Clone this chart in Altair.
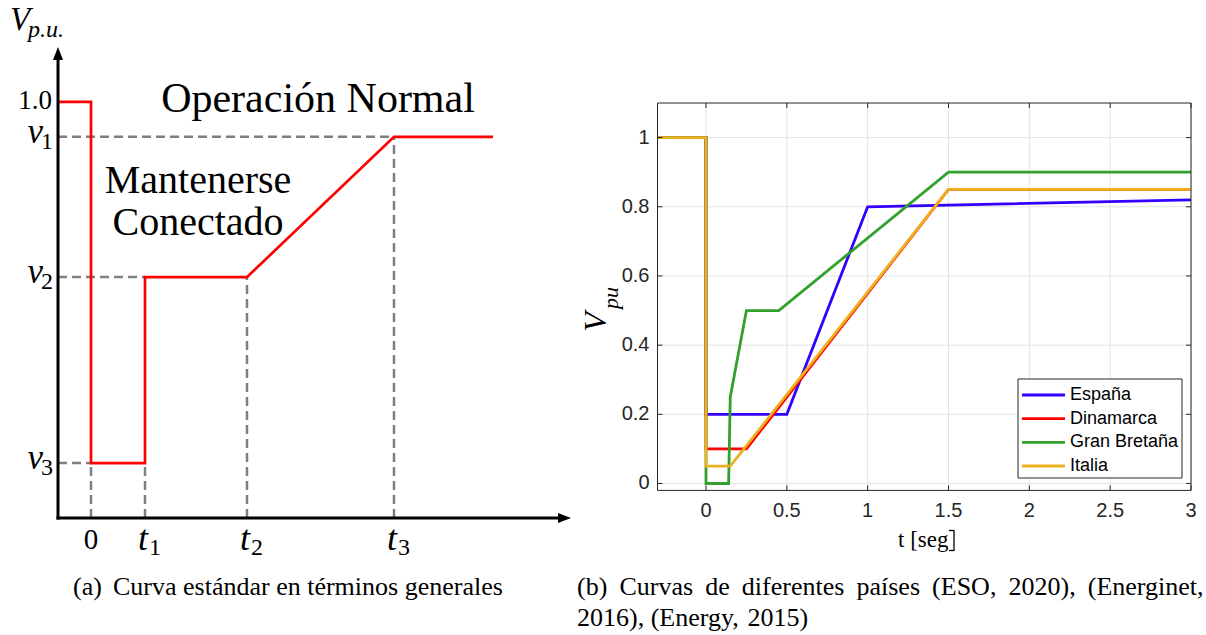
import altair as alt
import pandas as pd

SERIF = "Liberation Serif"
SANS = "Liberation Sans"

# ---------------- Panel (a): generic ride-through curve (schematic units) ----------------
a_curve_t = [-0.611, 0.0, 0.0, 1.0, 1.0, 2.889, 5.611, 7.444]
a_curve_v = [1.0, 1.0, 0.132, 0.132, 0.579, 0.579, 0.916, 0.916]
a_tick_t = [0.0, 1.0, 2.889, 5.611]          # 0, t1, t2, t3
a_tick_sub = ["1", "2", "3"]                 # subscripts of t1, t2, t3
a_tick_top = [0.132, 0.132, 0.579, 0.916]    # level reached by each vertical guide
a_level_v = [0.916, 0.579, 0.132]            # v1, v2, v3
a_level_sub = ["1", "2", "3"]
a_level_end = [5.611, 1.0, 0.0]              # where each horizontal guide stops
a_nominal = 1.0
a_x_min, a_x_max = -0.611, 8.889
a_y_min, a_y_max = 0.0, 1.132

# ---------------- Panel (b): curves of different countries ----------------
series_names = ["España", "Dinamarca", "Gran Bretaña", "Italia"]
series_colors = ["#3300ff", "#ff0000", "#33a02c", "#edb120"]
t_es = [-0.3, 0.0, 0.0, 0.5, 1.0, 3.0]
v_es = [1.0, 1.0, 0.2, 0.2, 0.8, 0.82]
t_dk = [-0.3, 0.0, 0.0, 0.25, 1.5, 3.0]
v_dk = [1.0, 1.0, 0.1, 0.1, 0.85, 0.85]
t_gb = [-0.3, 0.0, 0.0, 0.14, 0.15, 0.25, 0.45, 1.5, 3.0]
v_gb = [1.0, 1.0, 0.0, 0.0, 0.25, 0.5, 0.5, 0.9, 0.9]
t_it = [-0.3, 0.0, 0.0, 0.15, 1.5, 3.0]
v_it = [1.0, 1.0, 0.05, 0.05, 0.85, 0.85]
series_t = [t_es, t_dk, t_gb, t_it]
series_v = [v_es, v_dk, v_gb, v_it]

b_xticks = [0, 0.5, 1, 1.5, 2, 2.5, 3]
b_xlabels = ["0", "0.5", "1", "1.5", "2", "2.5", "3"]
b_yticks = [0, 0.2, 0.4, 0.6, 0.8, 1.0]
b_ylabels = ["0", "0.2", "0.4", "0.6", "0.8", "1"]
b_x_min, b_x_max = -0.3, 3.0
b_y_min, b_y_max = -0.02, 1.1

caption_a = ["(a)", "Curva estándar en términos generales"]
caption_b1 = ["(b)", "Curvas", "de", "diferentes", "países", "(ESO,", "2020),", "(Energinet,"]
caption_b2 = ["2016),", "(Energy,", "2015)"]
x_title = "t [seg"   # closing bracket is drawn with strokes below


# ---------------- scales ----------------
def XA(f):
    return alt.X(f, type="quantitative", axis=None,
                 scale=alt.Scale(domain=[a_x_min, a_x_max], range=[58, 571], nice=False, zero=False))


def YA(f):
    return alt.Y(f, type="quantitative", axis=None,
                 scale=alt.Scale(domain=[a_y_min, a_y_max], range=[518, 47], nice=False, zero=False))


def XB(f):
    return alt.X(f, type="quantitative", axis=None,
                 scale=alt.Scale(domain=[b_x_min, b_x_max], range=[657.5, 1191], nice=False, zero=False))


def YB(f):
    return alt.Y(f, type="quantitative", axis=None,
                 scale=alt.Scale(domain=[b_y_min, b_y_max], range=[490.4, 103], nice=False, zero=False))


def label(text, x, y, size, align="center", font=SERIF, style="normal",
          baseline="alphabetic", angle=0, color="black"):
    return alt.Chart(pd.DataFrame({"a": [0]})).mark_text(
        text=text, align=align, baseline=baseline, fontSize=size, font=font,
        fontStyle=style, angle=angle, color=color
    ).encode(x=alt.value(x), y=alt.value(y))


def stroke(x1, y1, x2, y2, w=1.3, color="black"):
    return alt.Chart(pd.DataFrame({"a": [0]})).mark_rule(color=color, strokeWidth=w).encode(
        x=alt.value(x1), y=alt.value(y1), x2=alt.value(x2), y2=alt.value(y2))


layers = []

# ================= Panel (a) =================
gray = "#7f7f7f"
gh = pd.DataFrame({"x": [a_x_min] * len(a_level_v), "x2": a_level_end, "y": a_level_v})
layers.append(alt.Chart(gh).mark_rule(color=gray, strokeWidth=2.5, strokeDash=[9, 5]).encode(
    x=XA("x"), x2="x2", y=YA("y")))
gv = pd.DataFrame({"x": a_tick_t, "y": [0.0] * len(a_tick_t), "y2": a_tick_top})
layers.append(alt.Chart(gv).mark_rule(color=gray, strokeWidth=2.5, strokeDash=[9, 5]).encode(
    x=XA("x"), y=YA("y"), y2="y2"))

curve = pd.DataFrame({"t": a_curve_t, "v": a_curve_v, "i": list(range(len(a_curve_t)))})
layers.append(alt.Chart(curve).mark_line(color="#ff0000", strokeWidth=2.7, strokeJoin="miter").encode(
    x=XA("t"), y=YA("v"), order="i:Q"))

# axes with arrows
ax = pd.DataFrame({"x": [a_x_min], "x2": [a_x_max - 0.14], "y": [0.0]})
layers.append(alt.Chart(ax).mark_rule(color="black", strokeWidth=3, strokeCap="square").encode(
    x=XA("x"), x2="x2", y=YA("y")))
ay = pd.DataFrame({"x": [a_x_min], "y": [0.0], "y2": [a_y_max - 0.02]})
layers.append(alt.Chart(ay).mark_rule(color="black", strokeWidth=3, strokeCap="square").encode(
    x=XA("x"), y=YA("y"), y2="y2"))
layers.append(alt.Chart(pd.DataFrame({"x": [a_x_max], "y": [0.0]})).mark_point(
    shape="M0,0L-1.73,-0.67L-1.73,0.67Z", size=225, filled=True, color="black", opacity=1, strokeWidth=0
).encode(x=XA("x"), y=YA("y")))
layers.append(alt.Chart(pd.DataFrame({"x": [a_x_min], "y": [a_y_max]})).mark_point(
    shape="M0,0L0.67,1.73L-0.67,1.73Z", size=225, filled=True, color="black", opacity=1, strokeWidth=0
).encode(x=XA("x"), y=YA("y")))

# y labels of panel (a)
layers.append(alt.Chart(pd.DataFrame({"x": [a_x_min], "y": [a_nominal], "s": ["1.0"]})).mark_text(
    align="right", baseline="middle", dx=-6, dy=-1, fontSize=27, font=SERIF, color="black"
).encode(x=XA("x"), y=YA("y"), text="s:N"))
lv = pd.DataFrame({"x": [a_x_min] * 3, "y": a_level_v, "s": ["v"] * 3, "sub": a_level_sub})
layers.append(alt.Chart(lv).mark_text(
    align="right", baseline="alphabetic", dx=-15, dy=6, fontSize=35, font=SERIF,
    fontStyle="italic", color="black").encode(x=XA("x"), y=YA("y"), text="s:N"))
layers.append(alt.Chart(lv).mark_text(
    align="left", baseline="alphabetic", dx=-17, dy=12, fontSize=24, font=SERIF,
    color="black").encode(x=XA("x"), y=YA("y"), text="sub:N"))

# x labels of panel (a)
layers.append(alt.Chart(pd.DataFrame({"x": [a_tick_t[0]], "y": [0.0], "s": ["0"]})).mark_text(
    align="center", baseline="alphabetic", dy=31, fontSize=29, font=SERIF, color="black"
).encode(x=XA("x"), y=YA("y"), text="s:N"))
lt = pd.DataFrame({"x": a_tick_t[1:], "y": [0.0] * 3, "s": ["t"] * 3, "sub": a_tick_sub})
layers.append(alt.Chart(lt).mark_text(
    align="right", baseline="alphabetic", dx=3, dy=32, fontSize=36, font=SERIF,
    fontStyle="italic", color="black").encode(x=XA("x"), y=YA("y"), text="s:N"))
layers.append(alt.Chart(lt).mark_text(
    align="left", baseline="alphabetic", dx=4, dy=37, fontSize=24, font=SERIF,
    color="black").encode(x=XA("x"), y=YA("y"), text="sub:N"))

# annotations of panel (a)
layers.append(label("V", 10, 30, 33, align="left", style="italic"))
layers.append(label("p.u.", 28, 37, 24, align="left", style="italic"))
layers.append(label("Operación Normal", 318, 112, 42))
layers.append(label("Mantenerse", 198, 193, 40))
layers.append(label("Conectado", 198, 235, 40))
layers.append(label(caption_a[0], 73, 595, 26, align="left"))
layers.append(label(caption_a[1], 113, 595, 26, align="left"))

# ================= Panel (b) =================
grid_c = "#e3e3e3"
gx = pd.DataFrame({"x": b_xticks, "y": [b_y_min] * len(b_xticks), "y2": [b_y_max] * len(b_xticks)})
layers.append(alt.Chart(gx).mark_rule(color=grid_c, strokeWidth=1).encode(x=XB("x"), y=YB("y"), y2="y2"))
gy = pd.DataFrame({"y": b_yticks, "x": [b_x_min] * len(b_yticks), "x2": [b_x_max] * len(b_yticks)})
layers.append(alt.Chart(gy).mark_rule(color=grid_c, strokeWidth=1).encode(y=YB("y"), x=XB("x"), x2="x2"))

for name, col, ts, vs in zip(series_names, series_colors, series_t, series_v):
    d = pd.DataFrame({"t": ts, "v": vs, "i": list(range(len(ts))), "serie": name})
    layers.append(alt.Chart(d).mark_line(color=col, strokeWidth=2.8, strokeJoin="miter").encode(
        x=XB("t"), y=YB("v"), order="i:Q"))

axis_c = "#262626"
frame = pd.DataFrame({"x": [b_x_min], "x2": [b_x_max], "y": [b_y_min], "y2": [b_y_max]})
layers.append(alt.Chart(frame).mark_rect(fillOpacity=0, stroke=axis_c, strokeWidth=1).encode(
    x=XB("x"), x2="x2", y=YB("y"), y2="y2"))

# inward ticks on all four sides
tb = pd.DataFrame({"x": b_xticks, "y": [b_y_min] * len(b_xticks)})
layers.append(alt.Chart(tb).mark_rule(color=axis_c, strokeWidth=1, y2Offset=-5).encode(
    x=XB("x"), y=YB("y"), y2="y"))
tt = pd.DataFrame({"x": b_xticks, "y": [b_y_max] * len(b_xticks)})
layers.append(alt.Chart(tt).mark_rule(color=axis_c, strokeWidth=1, y2Offset=5).encode(
    x=XB("x"), y=YB("y"), y2="y"))
tl = pd.DataFrame({"y": b_yticks, "x": [b_x_min] * len(b_yticks)})
layers.append(alt.Chart(tl).mark_rule(color=axis_c, strokeWidth=1, x2Offset=5).encode(
    y=YB("y"), x=XB("x"), x2="x"))
tr = pd.DataFrame({"y": b_yticks, "x": [b_x_max] * len(b_yticks)})
layers.append(alt.Chart(tr).mark_rule(color=axis_c, strokeWidth=1, x2Offset=-5).encode(
    y=YB("y"), x=XB("x"), x2="x"))

# tick labels
xl = pd.DataFrame({"x": b_xticks, "y": [b_y_min] * len(b_xticks), "s": b_xlabels})
layers.append(alt.Chart(xl).mark_text(align="center", baseline="middle", dy=21, fontSize=20,
                                      font=SANS, color=axis_c).encode(x=XB("x"), y=YB("y"), text="s:N"))
yl = pd.DataFrame({"y": b_yticks, "x": [b_x_min] * len(b_yticks), "s": b_ylabels})
layers.append(alt.Chart(yl).mark_text(align="right", baseline="middle", dx=-8, fontSize=20,
                                      font=SANS, color=axis_c).encode(x=XB("x"), y=YB("y"), text="s:N"))

# axis titles
layers.append(label(x_title, 898, 540, 23, align="left", baseline="middle"))
layers.append(stroke(954, 530, 954, 551))
layers.append(stroke(949, 530.5, 954, 530.5))
layers.append(stroke(949, 550.5, 954, 550.5))
layers.append(label("V", 596, 322, 32, style="italic", baseline="middle", angle=270))
layers.append(label("pu", 611, 298, 22, style="italic", baseline="middle", angle=270))

# legend
layers.append(alt.Chart(pd.DataFrame({"a": [0]})).mark_rect(
    fill="white", stroke=axis_c, strokeWidth=1).encode(
    x=alt.value(1018), x2=alt.value(1182), y=alt.value(379), y2=alt.value(478)))
leg = pd.DataFrame({"serie": series_names, "row": list(range(len(series_names)))})
leg_y = alt.Y("row:Q", axis=None, scale=alt.Scale(domain=[0, 3], range=[395, 466], nice=False, zero=False))
layers.append(alt.Chart(leg).mark_rule(strokeWidth=2.8).encode(
    x=alt.value(1022), x2=alt.value(1065), y=leg_y,
    color=alt.Color("serie:N", legend=None, scale=alt.Scale(domain=series_names, range=series_colors))))
layers.append(alt.Chart(leg).mark_text(align="left", baseline="middle", fontSize=18, font=SANS,
                                       color="black").encode(x=alt.value(1070), y=leg_y, text="serie:N"))

# caption (b), justified first line
TIMES = {"(": 333, ")": 333, "b": 500, "C": 667, "u": 500, "r": 333, "v": 500, "a": 444,
         "s": 389, "d": 500, "e": 444, "i": 278, "f": 333, "n": 500, "t": 278, "p": 500,
         "í": 278, "E": 611, "S": 556, "O": 722, ",": 250, "2": 500, "0": 500, "g": 500,
         "1": 500, "6": 500, "5": 500, "y": 500}
CAP = 26


def wid(w):
    return sum(TIMES.get(c, 500) for c in w) * CAP / 1000


left, right = 577, 1204
gap = (right - left - sum(wid(w) for w in caption_b1)) / (len(caption_b1) - 1)
xpos = left
for w in caption_b1:
    layers.append(label(w, xpos, 595, CAP, align="left"))
    xpos += wid(w) + gap
xpos = left
for w in caption_b2:
    layers.append(label(w, xpos, 626, CAP, align="left"))
    xpos += wid(w) + CAP * 0.25

chart = alt.layer(*layers).resolve_scale(
    x="independent", y="independent", color="independent"
).properties(
    width=1206, height=635, padding=0, background="white",
    autosize=alt.AutoSizeParams(type="none")
).configure_view(stroke=None)

chart.save("out.html", embed_options={"renderer": "svg", "actions": False})
